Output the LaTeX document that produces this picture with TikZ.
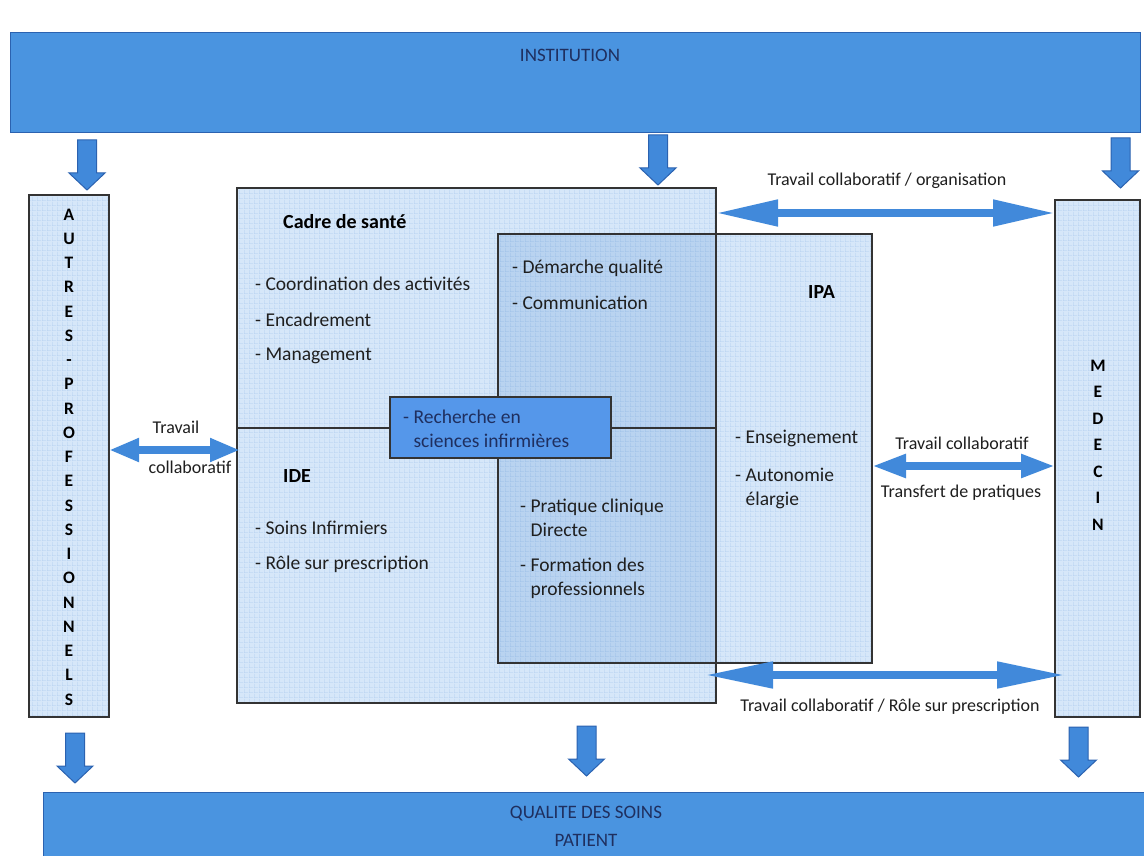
\documentclass[tikz,border=0pt]{standalone}
\usepackage{fontspec}
\setmainfont{Carlito}
\usetikzlibrary{arrows.meta,patterns.meta,calc}

\definecolor{instblue}{HTML}{4A94E0}
\definecolor{navy}{HTML}{1F2F5F}
\definecolor{lightc}{HTML}{D6E7F9}
\definecolor{gridc}{HTML}{ADCBEE}
\definecolor{overlapc}{HTML}{B9D3F0}
\definecolor{gridd}{HTML}{96BBE6}
\definecolor{arrblue}{HTML}{4189DA}
\definecolor{arredge}{HTML}{2B62B0}
\definecolor{recblue}{HTML}{5597EA}

\tikzdeclarepattern{
  name=fgrid,
  type=uncolored,
  bounding box={(0pt,0pt) and (4.5pt,4.5pt)},
  tile size={(4.5pt,4.5pt)},
  code={
    \draw[line width=0.5pt] (0pt,0.25pt) -- (4.5pt,0.25pt);
    \draw[line width=0.5pt] (0.25pt,0pt) -- (0.25pt,4.5pt);
  }
}

\tikzset{
  gridbox/.style={preaction={fill=lightc}, pattern=fgrid, pattern color=gridc,
    inner sep=0pt, outer sep=0pt, anchor=north west},
  edge/.style={draw=black!80, line width=1.1pt},
  bluebox/.style={fill=instblue, draw=arredge, line width=0.8pt, inner sep=0pt,
    outer sep=0pt, anchor=north west},
  recbox/.style={fill=recblue, draw=black!80, line width=1.1pt, inner sep=0pt,
    outer sep=0pt, anchor=north west},
  item/.style={anchor=west, inner sep=0pt, align=left, text=black!88,
    font=\fontsize{19.5}{24}\selectfont},
  head/.style={anchor=west, inner sep=0pt, text=black,
    font=\fontsize{20}{24}\selectfont\bfseries},
  lbl/.style={inner sep=0pt, text=black!88, font=\fontsize{18}{22}\selectfont},
  big/.style={inner sep=0pt, text=navy, align=center, font=\fontsize{19}{28}\selectfont},
  harrow/.style={draw=arrblue, line width=8pt},
  pics/downarrow/.style={code={
    \draw[draw=arredge, line width=1pt, fill=arrblue, line join=miter]
      (-9.5,0) -- (9.5,0) -- (9.5,33) -- (18,33) -- (0,50) -- (-18,33) -- (-9.5,33) -- cycle;
  }}
}

\begin{document}
\begin{tikzpicture}[x=1pt,y=-1pt]
\useasboundingbox[fill=white] (0,0) rectangle (1144,856);

% top and bottom bands
\node[bluebox, minimum width=1130pt, minimum height=100pt] (inst) at (10,32) {};
\node[big] (instlbl) at ($(inst.north)+(-5,23)$) {INSTITUTION};
\node[bluebox, minimum width=1110pt, minimum height=75pt] (qual) at (43,792) {};
\node[big] (quallbl) at (586,826) {QUALITE DES SOINS\\PATIENT};

% side columns
\node[gridbox, minimum width=80pt, minimum height=522pt] (autres) at (29,195) {};
\node[gridbox, minimum width=85pt, minimum height=517pt] (medecin) at (1055,200) {};
\draw[edge] (autres.north west) rectangle (autres.south east);
\draw[edge] (medecin.north west) rectangle (medecin.south east);
\node[inner sep=0pt, align=center, font=\fontsize{17.5}{24.25}\selectfont\bfseries] (autreslbl) at ($(autres.center)+(0,1)$)
  {A\\U\\T\\R\\E\\S\\-\\P\\R\\O\\F\\E\\S\\S\\I\\O\\N\\N\\E\\L\\S};
\node[inner sep=0pt, align=center, font=\fontsize{17.5}{26.5}\selectfont\bfseries] (medlbl) at (1098,445)
  {M\\E\\D\\E\\C\\I\\N};

% central boxes
\node[gridbox, minimum width=479pt, minimum height=240pt] (cadre) at (237,188) {};
\node[gridbox, minimum width=479pt, minimum height=275pt] (ide) at (237,428) {};
\node[gridbox, minimum width=374pt, minimum height=429pt] (ipa) at (498,234) {};
\fill[overlapc] (ipa.north west) rectangle (cadre.east |- ipa.south);
\path[pattern=fgrid, pattern color=gridd] (ipa.north west) rectangle (cadre.east |- ipa.south);
\draw[edge] (cadre.north west) rectangle (cadre.south east);
\draw[edge] (ide.north west) rectangle (ide.south east);
\draw[edge] (ipa.north west) rectangle (ipa.south east);

\node[recbox, minimum width=221pt, minimum height=61pt] (rech) at (390,397) {};
\node[item, text=navy] (rechlbl) at (403,428.5) {- Recherche en\\\hphantom{- }sciences infirmières};

% texts
\node[head] (cadrelbl) at (283,222) {Cadre de santé};
\node[item] (c1) at (255,284) {- Coordination des activités};
\node[item] (c2) at (255,320) {- Encadrement};
\node[item] (c3) at (255,356) {- Management};
\node[item] (q1) at (512,268) {- Démarche qualité};
\node[item] (q2) at (512,303) {- Communication};
\node[head] (ipalbl) at (808,292) {IPA};
\node[head] (idelbl) at (283,476) {IDE};
\node[item] (i1) at (255,528) {- Soins Infirmiers};
\node[item] (i2) at (255,564) {- Rôle sur prescription};
\node[item] (p1) at (520,518) {- Pratique clinique\\\hphantom{- }Directe};
\node[item] (p2) at (520,578.5) {- Formation des\\\hphantom{- }professionnels};
\node[item] (e1) at (735,438) {- Enseignement};
\node[item] (e2) at (735,488.5) {- Autonomie\\\hphantom{- }élargie};

% down arrows
\pic at ($(autres.north |- inst.south)+(18,8)$) {downarrow};
\pic at ($(cadre.north east |- inst.south)+(-58,3)$) {downarrow};
\pic at ($(medecin.north |- inst.south)+(23,6)$) {downarrow};
\pic at ($(autres.south)+(6,16)$) {downarrow};
\pic at ($(ide.south)+(110,23)$) {downarrow};
\pic at ($(medecin.south)+(-19,10)$) {downarrow};

% double arrows
\draw[harrow, {Triangle[length=62pt,width=25pt]}-{Triangle[length=62pt,width=25pt]}]
  ([yshift=-25pt]cadre.north east) -- ([yshift=-25pt]cadre.north east -| medecin.west);
\node[lbl] (l1) at (887,181) {Travail collaboratif / organisation};

\draw[harrow, {Triangle[length=34pt,width=22pt]}-{Triangle[length=34pt,width=22pt]}]
  ([yshift=-232pt]ipa.north east) -- ([yshift=-232pt]ipa.north east -| medecin.west);
\node[lbl] (l2) at (962,443) {Travail collaboratif};
\node[lbl] (l3) at (961,493) {Transfert de pratiques};

\draw[harrow, {Triangle[length=68pt,width=25pt]}-{Triangle[length=68pt,width=25pt]}]
  ($(ide.south east)+(-11,-28)$) -- ($(ide.south east -| medecin.west)+(10,-28)$);
\node[lbl] (l4) at (890,707) {Travail collaboratif / Rôle sur prescription};

\draw[harrow, {Triangle[length=30pt,width=22pt]}-{Triangle[length=30pt,width=22pt]}]
  ([yshift=-22pt]ide.north west -| autres.east) -- ([xshift=3pt,yshift=-22pt]ide.north west);
\node[lbl] (l5) at (176,427) {Travail};
\node[lbl] (l6) at (190,467) {collaboratif};
\end{tikzpicture}
\end{document}
